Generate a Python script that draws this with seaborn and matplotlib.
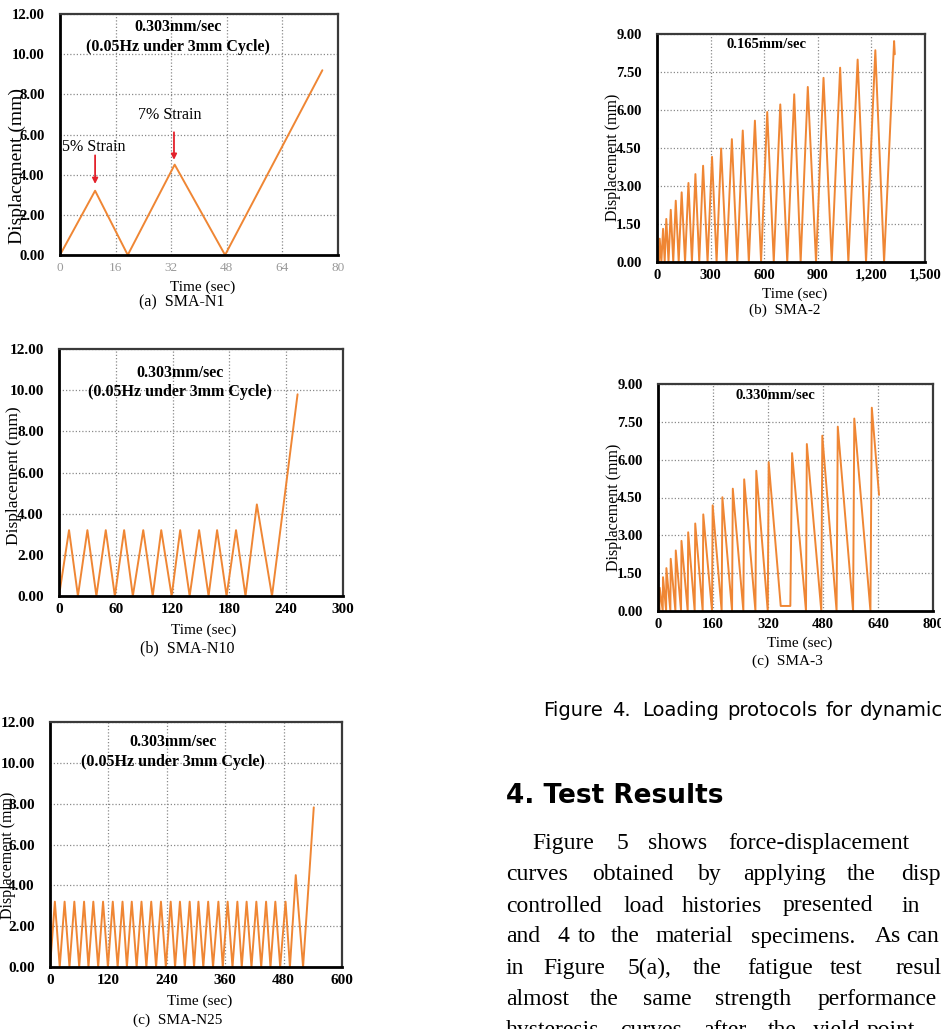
import matplotlib
matplotlib.use("Agg")
import matplotlib.pyplot as plt
import seaborn as sns

W, H = 941, 1029

# -----------------------------------------------------------------------------
# data
# -----------------------------------------------------------------------------
# (a) SMA-N1
n1_time = [0, 10.1, 19.5, 33.0, 47.5, 75.5]
n1_disp = [0, 3.2, 0, 4.5, 0, 9.2]

# (b) SMA-N10
n10_time = [0, 10.6, 20.0, 30.0, 39.5, 49.4, 59.0, 68.8, 78.0, 89.0, 99.0, 108.0,
            119.0, 128.0, 138.0, 148.0, 158.0, 167.0, 177.0, 187.0, 197.0,
            209.0, 225.0, 252.0]
n10_disp = [0, 3.2, 0, 3.2, 0, 3.2, 0, 3.2, 0, 3.2, 0, 3.2,
            0, 3.2, 0, 3.2, 0, 3.2, 0, 3.2, 0,
            4.45, 0, 9.8]

# (c) SMA-N25
n25_time = [0, 10, 20, 30, 40, 50, 60, 70, 79, 89, 99, 109, 119, 129, 139, 149,
            158, 168, 178, 188, 198, 208, 218, 228, 238, 248, 257, 267, 277,
            287, 296, 305, 315, 325, 335, 346, 355, 365, 375, 385, 394, 404,
            414, 424, 434, 444, 453, 463, 473, 484, 493, 505, 520, 542]
n25_disp = [0, 3.2, 0, 3.2, 0, 3.2, 0, 3.2, 0, 3.2, 0, 3.2, 0, 3.2, 0, 3.2,
            0, 3.2, 0, 3.2, 0, 3.2, 0, 3.2, 0, 3.2, 0, 3.2, 0,
            3.2, 0, 3.2, 0, 3.2, 0, 3.2, 0, 3.2, 0, 3.2, 0, 3.2,
            0, 3.2, 0, 3.2, 0, 3.2, 0, 3.2, 0, 4.5, 0, 7.82]

# (b) SMA-2, 0.165 mm/sec
sma2_time = [0, 2, 4, 7, 11, 15, 24.5, 34, 43, 52, 64.5, 77, 91, 105, 121.5, 138,
             157, 176, 195.5, 215, 236.5, 258, 283, 308, 333.5, 359, 389, 419,
             449.5, 480, 514, 548, 582.5, 617, 653.5, 690, 729, 768, 804, 844,
             890, 932, 978, 1025, 1071, 1123, 1170, 1222, 1271, 1327, 1331]
sma2_disp = [0, 0.3, 0, 0.6, 0, 0.92, 0, 1.31, 0, 1.70, 0, 2.06, 0, 2.42, 0, 2.75,
             0, 3.12, 0, 3.47, 0, 3.80, 0, 4.15, 0, 4.48, 0, 4.85,
             0, 5.19, 0, 5.58, 0, 5.92, 0, 6.22, 0, 6.62, 0, 6.91,
             0, 7.27, 0, 7.67, 0, 7.99, 0, 8.36, 0, 8.72, 8.2]

# (c) SMA-3, 0.330 mm/sec
sma3_time = [0, 1.5, 4.0, 5.0, 13.8, 14.6, 23.6, 24.4, 36.0, 37.0, 50.6, 51.7,
             67.0, 68.3, 86.4, 87.8, 106.7, 108.3, 130.0, 131.7, 157.1, 159.0,
             185.2, 187.3, 215.4, 217.6, 248.3, 250.7, 283.4, 285.9, 319.3,
             322.0, 357.0, 385.0, 390.0, 430.5, 433.0, 475.0, 478.0, 519.5,
             523.0, 567.5, 571.0, 618.0, 622.0, 643.0]
sma3_disp = [0, 0.45, 0, 0.92, 0, 1.34, 0, 1.70, 0, 2.07, 0, 2.40,
             0, 2.78, 0, 3.12, 0, 3.47, 0, 3.83, 0, 4.19,
             0, 4.51, 0, 4.85, 0, 5.22, 0, 5.56, 0,
             5.90, 0.2, 0.2, 6.26, 0, 6.62, 0, 6.95, 0,
             7.31, 0, 7.63, 0, 8.06, 4.6]

n1_xticks = [0, 16, 32, 48, 64, 80]
n10_xticks = [0, 60, 120, 180, 240, 300]
n25_xticks = [0, 120, 240, 360, 480, 600]
sma2_xticks = [0, 300, 600, 900, 1200, 1500]
sma2_xticklabels = ["0", "300", "600", "900", "1,200", "1,500"]
sma3_xticks = [0, 160, 320, 480, 640, 800]
n_yticks = [0, 2, 4, 6, 8, 10, 12]
sma_yticks = [0, 1.5, 3.0, 4.5, 6.0, 7.5, 9.0]

rate_label = "0.303mm/sec\n(0.05Hz under 3mm Cycle)"

ORANGE = "#EF8634"
SERIF = ["Liberation Serif", "DejaVu Serif"]


def px(x, y):
    """pixel position on the page -> figure fraction"""
    return x / W, 1 - y / H


def make_panel(fig, box, t, d, xticks, yticks, xlabels=None, xcolor="black",
               tick_size=11, xtick_size=None):
    x0, y0, x1, y1 = box
    ax = fig.add_axes([x0 / W, 1 - y1 / H, (x1 - x0) / W, (y1 - y0) / H])
    sns.lineplot(x=t, y=d, ax=ax, color=ORANGE, linewidth=1.4, sort=False,
                 estimator=None)
    ax.set_xlim(xticks[0], xticks[-1])
    ax.set_ylim(yticks[0], yticks[-1])
    ax.set_xticks(xticks)
    ax.set_yticks(yticks)
    ax.set_xticklabels(xlabels if xlabels else [str(v) for v in xticks],
                       fontweight="bold" if xcolor == "black" else "normal",
                       color=xcolor, fontsize=xtick_size or tick_size)
    ax.set_yticklabels([f"{v:.2f}" for v in yticks], fontweight="bold",
                       fontsize=tick_size)
    ax.tick_params(axis="y", direction="in", length=3, pad=11)
    ax.tick_params(axis="x", direction="in", length=3, pad=5)
    ax.grid(True, color="#8a8a8a", linestyle=(0, (1, 1.6)), linewidth=0.9)
    ax.set_axisbelow(True)
    for side in ["top", "right"]:
        ax.spines[side].set_color("#3a3a3a")
        ax.spines[side].set_linewidth(1.6)
    for side in ["left", "bottom"]:
        ax.spines[side].set_color("black")
        ax.spines[side].set_linewidth(2.0)
    ax.set_xlabel("")
    ax.set_ylabel("")
    return ax


sns.set_theme(style="white")
plt.rcParams["font.family"] = SERIF
plt.rcParams["text.color"] = "black"
plt.rcParams["xtick.color"] = "black"
plt.rcParams["ytick.color"] = "black"

fig = plt.figure(figsize=(W / 100, H / 100), dpi=100)
fig.patch.set_facecolor("white")

# ---- left column: SMA-N series -------------------------------------------
ax_a = make_panel(fig, (60, 14, 338, 255), n1_time, n1_disp, n1_xticks,
                  n_yticks, xcolor="#9a9a9a", tick_size=10.5, xtick_size=9.5)
ax_a.text(0.425, 0.905, rate_label, transform=ax_a.transAxes, ha="center",
          va="center", fontsize=11.5, fontweight="bold", linespacing=1.3)
ax_a.annotate("", xy=(10.1, 3.4), xytext=(10.1, 5.1),
              arrowprops=dict(arrowstyle="-|>", color="#E3212B", lw=1.3,
                              mutation_scale=8))
ax_a.text(0.6, 5.38, "5% Strain", fontsize=11.5, va="center", ha="left")
ax_a.annotate("", xy=(32.8, 4.6), xytext=(32.8, 6.25),
              arrowprops=dict(arrowstyle="-|>", color="#E3212B", lw=1.3,
                              mutation_scale=8))
ax_a.text(31.7, 6.97, "7% Strain", fontsize=11.5, va="center", ha="center")

ax_b = make_panel(fig, (59, 349, 343, 596), n10_time, n10_disp, n10_xticks,
                  n_yticks)
ax_b.text(0.426, 0.864, rate_label, transform=ax_b.transAxes, ha="center",
          va="center", fontsize=11.5, fontweight="bold", linespacing=1.3)

ax_c = make_panel(fig, (50, 722, 342, 967), n25_time, n25_disp, n25_xticks,
                  n_yticks)
ax_c.text(0.42, 0.877, rate_label, transform=ax_c.transAxes, ha="center",
          va="center", fontsize=11.5, fontweight="bold", linespacing=1.3)

# ---- right column: SMA-2 / SMA-3 ------------------------------------------
ax_d = make_panel(fig, (657, 34, 925, 262), sma2_time, sma2_disp, sma2_xticks,
                  sma_yticks, xlabels=sma2_xticklabels, tick_size=10.5)
ax_d.text(0.41, 0.956, "0.165mm/sec", transform=ax_d.transAxes, ha="center",
          va="center", fontsize=10.5, fontweight="bold")

ax_e = make_panel(fig, (658, 384, 933, 611), sma3_time, sma3_disp, sma3_xticks,
                  sma_yticks, tick_size=10.5)
ax_e.text(0.425, 0.95, "0.330mm/sec", transform=ax_e.transAxes, ha="center",
          va="center", fontsize=10.5, fontweight="bold")

# axis titles and sub-captions placed where the scan has them
labels = [
    # (ylabel x, ylabel y, ylabel size, xlabel x, xlabel y, caption x, caption y, caption, size)
    (17, 166, 14, 203, 287, 182, 302, "(a)  SMA-N1", 11.5),
    (14, 476, 12.5, 204, 630, 187, 648, "(b)  SMA-N10", 11.5),
    (8, 855, 11.5, 200, 1001, 178, 1020, "(c)  SMA-N25", 11),
    (613, 157, 11.5, 795, 294, 785, 310, "(b)  SMA-2", 11),
    (614, 507, 11.5, 800, 643, 787, 661, "(c)  SMA-3", 11),
]
for yx, yy, ys, xx, xy, cx, cy, cap, cs in labels:
    fig.text(*px(yx, yy), "Displacement (mm)", rotation=90, ha="center",
             va="center", fontsize=ys)
    fig.text(*px(xx, xy), "Time (sec)", ha="center", va="center", fontsize=11)
    fig.text(*px(cx, cy), cap, ha="center", va="center", fontsize=cs)

# ---- running text of the page ----------------------------------------------
caption_words = [("Figure", 543), ("4.", 612), ("Loading", 642),
                 ("protocols", 727), ("for", 825), ("dynamic", 860)]
for word, x in caption_words:
    fig.text(*px(x, 716), word, fontsize=14, family=["DejaVu Sans"],
             va="baseline", ha="left")
fig.text(*px(506, 803), "4. Test Results", fontsize=19, fontweight="bold",
         family=["DejaVu Sans"], va="baseline")

body_words = [
    [("Figure", 532), ("5", 617), ("shows", 648), ("force-displacement", 728)],
    [("curves", 506), ("obtained", 592), ("by", 698), ("applying", 743),
     ("the", 847), ("displ", 901)],
    [("controlled", 506), ("load", 623), ("histories", 682), ("presented", 783),
     ("in", 901)],
    [("and", 506), ("4", 557), ("to", 578), ("the", 611), ("material", 656),
     ("specimens.", 751), ("As", 875), ("can", 906)],
    [("in", 506), ("Figure", 543), ("5(a),", 628), ("the", 693),
     ("fatigue", 747), ("test", 830), ("resul", 895)],
    [("almost", 506), ("the", 590), ("same", 643), ("strength", 715),
     ("performance", 818)],
    [("hysteresis", 506), ("curves", 620), ("after", 703), ("the", 768),
     ("yield", 813), ("point", 867)],
]
baselines = [849, 880, 911.5, 942.5, 974, 1005, 1036]
for words, base in zip(body_words, baselines):
    for word, x in words:
        fig.text(*px(x, base), word, fontsize=17, va="baseline", ha="left")

fig.savefig("out.png", dpi=100, facecolor="white")
plt.close(fig)
